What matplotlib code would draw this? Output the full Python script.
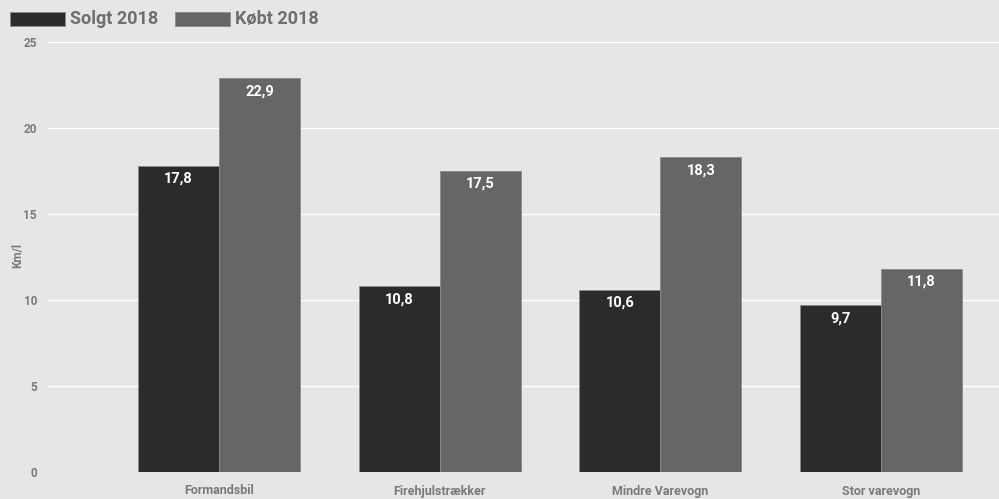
import matplotlib
matplotlib.use("Agg")
import matplotlib.pyplot as plt
from matplotlib.patches import Rectangle
import numpy as np

plt.rcParams['font.family'] = ['Roboto', 'DejaVu Sans']

categories = ["Formandsbil", "Firehjulstrækker", "Mindre Varevogn", "Stor varevogn"]
solgt = [17.8, 10.8, 10.6, 9.7]
kobt = [22.9, 17.5, 18.3, 11.8]
series_names = ["Solgt 2018", "Købt 2018"]
yticks = [0, 5, 10, 15, 20, 25]

W, H = 999, 499
fig = plt.figure(figsize=(W / 100, H / 100), dpi=100)
bg = "#e6e6e5"
fig.patch.set_facecolor(bg)
ax = fig.add_axes([48 / W, (H - 472) / H, (999 - 48) / W, 430 / H])
ax.set_facecolor(bg)

dark = "#2a2c29"
grey = "#666666"
txt = "#7a7a7a"

x = np.arange(len(categories))
bw = 0.367
b1 = ax.bar(x - bw / 2, solgt, bw, color=dark, edgecolor="#8a8a8a", linewidth=0.6, zorder=3)
b2 = ax.bar(x + bw / 2, kobt, bw, color=grey, edgecolor="#8a8a8a", linewidth=0.6, zorder=3)

for bars, vals in ((b1, solgt), (b2, kobt)):
    for r, v in zip(bars, vals):
        ax.annotate(f"{v:.1f}".replace(".", ","), (r.get_x() + r.get_width() / 2, v),
                    xytext=(0, -13), textcoords="offset pixels",
                    ha="center", va="center", color="white", fontsize=10.5,
                    fontweight="bold", zorder=4)

ax.set_xlim(-0.775, 3.535)
ax.set_ylim(0, 25)
ax.set_yticks(yticks)
ax.set_yticklabels([str(t) for t in yticks])
ax.set_xticks(x)
ax.set_xticklabels(categories)
ax.yaxis.grid(True, color="white", linewidth=1.0, zorder=0)
ax.set_axisbelow(True)
for s in ax.spines.values():
    s.set_visible(False)
ax.tick_params(axis="both", length=0, colors=txt)
ax.tick_params(axis="y", labelsize=8.5, pad=8)
ax.tick_params(axis="x", labelsize=9, pad=9)
for lab in ax.get_xticklabels() + ax.get_yticklabels():
    lab.set_fontweight("bold")
    lab.set_color(txt)

fig.text(18 / W, 1 - 255 / H, "Km/l", rotation=90, ha="center", va="center",
         fontsize=8.5, fontweight="bold", color=txt)

# legend
for px, col, name in ((10, dark, series_names[0]), (175, grey, series_names[1])):
    fig.patches.append(Rectangle((px / W, 1 - 26 / H), 55 / W, 14 / H,
                                 transform=fig.transFigure, facecolor=col,
                                 edgecolor="#8a8a8a", linewidth=0.6))
    fig.text((px + 60) / W, 1 - 19 / H, name, ha="left", va="center",
             fontsize=13, fontweight="bold", color="#6e6e6e")

fig.savefig("out.png", dpi=100, facecolor=bg)
